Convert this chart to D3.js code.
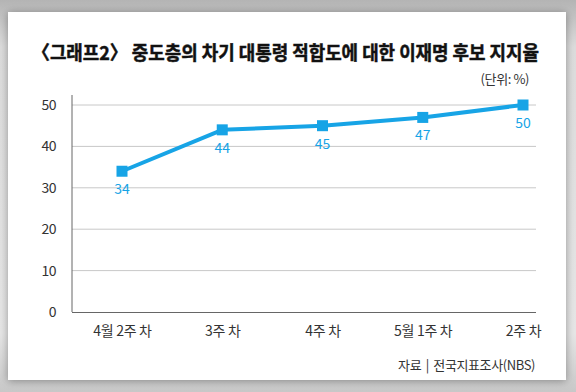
<!DOCTYPE html>
<html>
<head>
<meta charset="utf-8">
<script src="https://cdn.jsdelivr.net/npm/d3@7"></script>
<style>
  html, body { margin: 0; padding: 0; }
  body {
    width: 576px; height: 392px; overflow: hidden;
    background: linear-gradient(#b4b4b4, #dcdcdc 12%, #e6e6e6 85%, #c8c8c8);
  }
  #chart { position: absolute; left: 0; top: 0; }
</style>
</head>
<body>
<svg id="chart" width="576" height="392"></svg>
<script>
// data
const weeks = ["4월 2주 차", "3주 차", "4주 차", "5월 1주 차", "2주 차"];
const support = [34, 44, 45, 47, 50];
const yTicks = [0, 10, 20, 30, 40, 50];

const titleText = "〈그래프2〉 중도층의 차기 대통령 적합도에 대한 이재명 후보 지지율";
const unitText = "(단위: %)";
const sourceText = "자료 | 전국지표조사(NBS)";

const font = "'Noto Sans CJK KR', 'Noto Sans', sans-serif";
const blue = "#17a4e6";

const svg = d3.select("#chart");

/* card with soft shadow */
const defs = svg.append("defs");
const shadow = defs.append("filter").attr("id", "shadow")
  .attr("x", "-10%").attr("y", "-10%").attr("width", "120%").attr("height", "120%");
shadow.append("feDropShadow")
  .attr("dx", 0).attr("dy", 1)
  .attr("stdDeviation", 4)
  .attr("flood-color", "#000")
  .attr("flood-opacity", 0.35);

svg.append("rect")
  .attr("x", 8).attr("y", 12)
  .attr("width", 558).attr("height", 368)
  .attr("fill", "#fff")
  .attr("filter", "url(#shadow)");

/* plot area */
const margin = { left: 72, right: 536, top: 105, bottom: 312 };

const x = d3.scalePoint()
  .domain(weeks)
  .range([122, 523]);

const y = d3.scaleLinear()
  .domain([0, 50])
  .range([margin.bottom, margin.top]);

const plot = svg.append("g");

// grid lines
plot.append("g")
  .selectAll("line")
  .data(yTicks.filter(d => d > 0))
  .enter().append("line")
    .attr("x1", margin.left)
    .attr("x2", margin.right)
    .attr("y1", d => y(d))
    .attr("y2", d => y(d))
    .attr("stroke", "#c8c8c8")
    .attr("stroke-width", 1);

// y axis
const yAxis = d3.axisLeft(y)
  .tickValues(yTicks)
  .tickSize(0)
  .tickPadding(16);

const yG = plot.append("g")
  .attr("transform", `translate(${margin.left},0)`)
  .call(yAxis);
yG.select(".domain").remove();
yG.selectAll("text")
  .attr("font-family", font)
  .attr("font-size", "14px")
  .attr("fill", "#333")
  .attr("letter-spacing", "-0.5px");

plot.append("line")
  .attr("x1", margin.left).attr("x2", margin.left)
  .attr("y1", 95).attr("y2", margin.bottom)
  .attr("stroke", "#666").attr("stroke-width", 1);

// x axis
const xAxis = d3.axisBottom(x)
  .tickSize(0)
  .tickPadding(14);

const xG = plot.append("g")
  .attr("transform", `translate(0,${margin.bottom})`)
  .call(xAxis);
xG.select(".domain").remove();
xG.selectAll("text")
  .attr("font-family", font)
  .attr("font-size", "14px")
  .attr("fill", "#333")
  .attr("letter-spacing", "-0.3px");

plot.append("line")
  .attr("x1", margin.left).attr("x2", margin.right)
  .attr("y1", margin.bottom + 0.5).attr("y2", margin.bottom + 0.5)
  .attr("stroke", "#666").attr("stroke-width", 1.2);

/* line series */
const points = weeks.map((w, i) => ({ week: w, value: support[i] }));

const line = d3.line()
  .x(d => x(d.week))
  .y(d => y(d.value));

plot.append("path")
  .datum(points)
  .attr("d", line)
  .attr("fill", "none")
  .attr("stroke", blue)
  .attr("stroke-width", 4)
  .attr("stroke-linejoin", "round");

plot.append("g")
  .selectAll("rect")
  .data(points)
  .enter().append("rect")
    .attr("x", d => x(d.week) - 5.5)
    .attr("y", d => y(d.value) - 5.5)
    .attr("width", 11)
    .attr("height", 11)
    .attr("fill", blue);

plot.append("g")
  .selectAll("text")
  .data(points)
  .enter().append("text")
    .attr("x", d => x(d.week))
    .attr("y", d => y(d.value) + 23)
    .attr("text-anchor", "middle")
    .attr("font-family", font)
    .attr("font-size", "14px")
    .attr("fill", blue)
    .text(d => d.value);

/* titles */
svg.append("text")
  .attr("x", 32).attr("y", 60)
  .attr("font-family", font)
  .attr("font-size", "19px")
  .attr("font-weight", "bold")
  .attr("fill", "#111")
  .attr("stroke", "#111")
  .attr("stroke-width", 0.5)
  .attr("textLength", 507)
  .attr("lengthAdjust", "spacingAndGlyphs")
  .text(titleText);

svg.append("text")
  .attr("x", 529).attr("y", 84)
  .attr("text-anchor", "end")
  .attr("font-family", font)
  .attr("font-size", "13px")
  .attr("fill", "#333")
  .attr("letter-spacing", "-0.4px")
  .text(unitText);

svg.append("text")
  .attr("x", 535).attr("y", 370)
  .attr("text-anchor", "end")
  .attr("font-family", font)
  .attr("font-size", "13px")
  .attr("fill", "#333")
  .attr("letter-spacing", "-0.4px")
  .attr("word-spacing", "2px")
  .text(sourceText);
</script>
</body>
</html>
